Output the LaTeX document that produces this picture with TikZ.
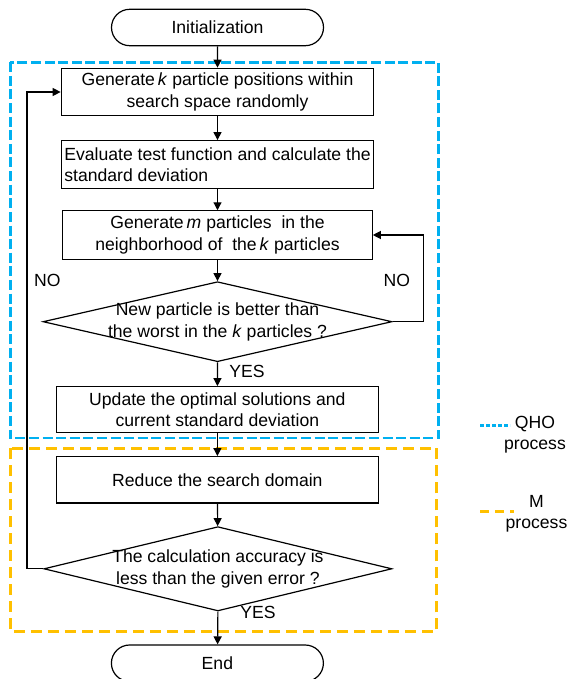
\documentclass[tikz,border=0pt]{standalone}
\usepackage{fontspec}
\setmainfont{Liberation Sans}
\usetikzlibrary{shapes.geometric,shapes.misc,arrows.meta}
\definecolor{qhoblue}{RGB}{0,176,240}
\definecolor{morange}{RGB}{255,192,0}
\begin{document}
\begin{tikzpicture}[x=1pt,y=-1pt,
  every node/.style={font=\fontsize{17.6}{21.5}\selectfont},
  stepbox/.style={draw, line width=1.2pt, inner sep=1pt, align=center},
  terminal/.style={draw, line width=1.2pt, rounded rectangle, minimum width=214, minimum height=36.4, inner sep=1pt},
  decision/.style={draw, line width=1.2pt, diamond, inner sep=0pt},
  flow/.style={line width=1.2pt, -{Triangle[length=8pt,width=8pt]}},
  qhoframe/.style={qhoblue, line width=2.8pt, dash pattern=on 10pt off 3.6pt},
  mframe/.style={morange, line width=2.8pt, dash pattern=on 11pt off 6pt},
]
\useasboundingbox (0,0) rectangle (569,679);
\clip (0,0) rectangle (569,679);

% process frames
\draw[qhoframe] (10.2,62.3) rectangle (438.7,438);
\draw[mframe] (10.2,448.3) rectangle (436.5,631.7);

% flowchart steps
\node[terminal] (init) at (217.5,27.5) {Initialization};
\node[stepbox, minimum width=312.5, minimum height=47.4] (gen) at (217.5,92)
  {Generate\,\textit{k} particle positions within\\search space randomly};
\node[stepbox, minimum width=312.5, minimum height=48, align=left, inner sep=0.5pt] (eval) at (217.5,164.7)
  {Evaluate test function and calculate the\\standard deviation};
\node[stepbox, minimum width=309.4, minimum height=48.3] (neigh) at (217.5,235)
  {Generate\,\textit{m} particles\ \ in the\\neighborhood of\ \ the\,\textit{k} particles};
\node[decision, minimum width=349, minimum height=80,
  label={[align=center]center:New particle is better than\\the worst in the \textit{k} particles ?}] (dec1) at (217.5,321.7) {};
\node[stepbox, minimum width=321.7, minimum height=46] (upd) at (217.4,409.7)
  {Update the optimal solutions and\\current standard deviation};
\node[stepbox, minimum width=321.5, minimum height=46.3] (red) at (217.4,479.8)
  {Reduce the search domain};
\node[decision, minimum width=348, minimum height=84.3,
  label={[align=center]center:The calculation accuracy is\\less than the given error ?}] (dec2) at (217.9,568.8) {};
\node[terminal] (end) at (217.4,663.2) {End};

% connectors
\draw[flow] (init) -- (gen);
\draw[flow] (gen) -- (eval);
\draw[flow] (eval) -- (neigh);
\draw[flow] (neigh) -- (dec1);
\draw[flow] (dec1) -- node[pos=0.4, right=8pt] {YES} (upd);
\draw[flow] (upd) -- (red);
\draw[flow] (red) -- (dec2);
\draw[flow] (dec2.south) -- (end);
\node (yes2) at (258,612.7) {YES};
\draw[flow] (dec1.east) -- ++(31,0) |- (neigh.east);
\draw[flow] (dec2.west) -- ++(-16.3,0) |- (gen.west);
\node (noright) at (396.8,280.7) {NO};
\node (noleft) at (47.4,280.7) {NO};

% legend
\draw[qhoblue, line width=3pt, dash pattern=on 3.5pt off 2.5pt] (480,425) -- (510,425);
\node[align=center] (qholab) at (535,434.5) {QHO\\process};
\draw[morange, line width=3pt, dash pattern=on 9pt off 6pt] (480,511) -- (514,511);
\node[align=center] (mlab) at (536.5,514) {M\\process};
\end{tikzpicture}
\end{document}
